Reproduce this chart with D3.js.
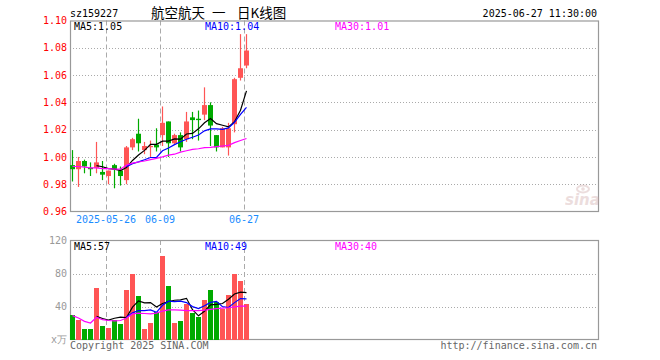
<!DOCTYPE html>
<html><head><meta charset="utf-8">
<script src="https://cdn.jsdelivr.net/npm/d3@7"></script>
<style>
html,body{margin:0;padding:0;background:#fff;}
svg{display:block;}
</style></head>
<body>
<svg id="c" width="660" height="360"></svg>
<script>
const dates = ["2025-05-16","2025-05-19","2025-05-20","2025-05-21","2025-05-22","2025-05-23","2025-05-26","2025-05-27","2025-05-28","2025-05-29",
"2025-05-30","2025-06-03","2025-06-04","2025-06-05","2025-06-06","2025-06-09","2025-06-10","2025-06-11","2025-06-12","2025-06-13",
"2025-06-16","2025-06-17","2025-06-18","2025-06-19","2025-06-20","2025-06-23","2025-06-24","2025-06-25","2025-06-26","2025-06-27"];
const openP  = [0.994,0.991,0.997,0.992,0.992,0.989,0.986,0.994,0.990,0.983,1.007,1.017,1.005,1.0075,1.009,1.016,1.026,1.010,1.016,1.013,1.029,1.028,1.031,1.038,1.016,1.007,1.007,1.024,1.058,1.067];
const highP  = [1.005,1.000,0.998,0.996,1.011,0.997,0.990,0.995,0.993,1.008,1.014,1.028,1.011,1.012,1.021,1.037,1.026,1.017,1.018,1.033,1.033,1.034,1.051,1.040,1.016,1.022,1.025,1.058,1.090,1.090];
const lowP   = [0.982,0.978,0.988,0.986,0.988,0.983,0.980,0.977,0.979,0.980,1.005,1.004,1.002,1.000,1.004,1.008,1.000,1.009,1.004,1.011,1.013,1.012,1.027,1.008,1.004,1.007,1.001,1.018,1.056,1.065];
const closeP = [0.991,0.997,0.993,0.991,0.996,0.987,0.990,0.991,0.986,1.007,1.013,1.010,1.008,1.008,1.007,1.025,1.010,1.016,1.007,1.026,1.027,1.027,1.038,1.023,1.007,1.021,1.021,1.057,1.065,1.078];
const ma5P  = [null,null,null,null,0.9936,0.9928,0.9914,0.991,0.990,0.9922,0.9974,1.0014,1.0048,1.0092,1.0092,1.0116,1.0116,1.0132,1.013,1.0168,1.0172,1.0206,1.025,1.0282,1.0244,1.0232,1.022,1.0258,1.0342,1.0484];
const ma10P = [null,null,null,null,null,null,null,null,null,0.9929,0.9951,0.9964,0.9979,0.9996,0.9997,1.0045,1.0065,1.009,1.0111,1.013,1.0144,1.0161,1.0191,1.0206,1.0206,1.0202,1.0213,1.0254,1.0312,1.0364];
const ma30P = [0.993,0.993,0.9925,0.992,0.992,0.9915,0.9915,0.991,0.991,0.994,0.9955,0.9963,0.997,0.998,0.999,1.000,1.0013,1.002,1.0035,1.0045,1.0055,1.006,1.0068,1.007,1.0075,1.008,1.0085,1.0105,1.012,1.0135];
const volume = [29.4,23.8,12.5,12.5,62,16,14.5,24,18.5,59.6,79.4,52.4,12.5,19.7,33.4,100.7,64.4,19.7,22.1,42.7,31.8,27,47.5,60.4,46,37,53.5,79,71.3,42.7];
const ma5V  = [null,null,null,null,28,25.4,23.5,25.8,27,26.5,39.2,46.8,44.5,44.7,39.5,43.7,46.1,47.6,48.1,49.9,36.1,28.7,34.2,41.9,42.5,43.6,48.9,55.2,57.4,56.7];
const ma10V = [null,null,null,null,null,null,null,null,null,27.3,32.3,35.1,35.1,35.9,33,41.5,46.5,46,46.4,44.7,39.9,37.4,40.9,45,46.2,39.9,38.8,44.7,49.6,49.3];
const ma30V = [29,26,22,20,27,24,23,22.5,23,26,31,32,31.5,31,32,34.5,36,36,35.5,35,35,35,35.5,36.5,37.5,38,38.5,39.5,40.5,40.4];
const priceTicks = [0.96,0.98,1.00,1.02,1.04,1.06,1.08,1.10];
const volTicks = [0,40,80,120];
const dateTicks = ["2025-05-26","2025-06-09","2025-06-27"];
const titleParts = ["航空航天","一","日K线图"];
const code = "sz159227";
const stamp = "2025-06-27 11:30:00";

const RED="#ff5555", GREEN="#00aa00", GRID="#aaaaaa", BORDER="#999999";
const MONO="'DejaVu Sans Mono', 'Liberation Mono', monospace";
const svg = d3.select("#c");

const L=70, R=598;
const x = d3.scaleBand().domain(dates).range([L, L+179]).paddingInner(1/6).paddingOuter(0);
const yP = d3.scaleLinear().domain([0.96,1.10]).range([211.5,20.5]);
const yV = d3.scaleLinear().domain([0,120]).range([339.5,240.5]);

function panel(y, ticks, top, bottom){
  svg.append("g").selectAll("line").data(ticks.slice(1,-1)).join("line")
    .attr("x1",L).attr("x2",R+2).attr("y1",d=>Math.round(y(d))+0.5).attr("y2",d=>Math.round(y(d))+0.5)
    .attr("stroke",GRID).attr("stroke-dasharray","1,2");
  svg.append("g").selectAll("line").data(dateTicks).join("line")
    .attr("x1",d=>x(d)+0.5).attr("x2",d=>x(d)+0.5).attr("y1",top).attr("y2",bottom)
    .attr("stroke",GRID).attr("stroke-dasharray","5,3");
  svg.append("rect").attr("x",L+0.5).attr("y",top+0.5).attr("width",R-L).attr("height",bottom-top)
    .attr("fill","none").attr("stroke",BORDER).attr("stroke-width",1.2);
}
panel(yP, priceTicks, 20.5, 211);
panel(yV, [0,40,80,120], 240, 339);

const ax = svg.append("g").attr("transform",`translate(${L},0)`)
  .call(d3.axisLeft(yP).tickValues(priceTicks).tickFormat(d3.format(".2f")).tickSize(0).tickPadding(3));
ax.select(".domain").remove();
ax.selectAll("text").attr("fill","#ff0000").style("font-family",MONO).style("font-size","10px");

const av = svg.append("g").attr("transform",`translate(${L},0)`)
  .call(d3.axisLeft(yV).tickValues(volTicks).tickFormat(d=>d===0?"x万":d).tickSize(0).tickPadding(3));
av.select(".domain").remove();
av.selectAll("text").attr("fill","#999").style("font-family",MONO).style("font-size","10px");

const ad = svg.append("g").attr("transform","translate(0,211.5)")
  .call(d3.axisBottom(x).tickValues(dateTicks).tickFormat((d,i)=>i===0?d:d.slice(5)).tickSize(0).tickPadding(4));
ad.select(".domain").remove();
ad.selectAll(".tick").attr("transform",d=>`translate(${x(d)},0)`);
ad.selectAll("text").attr("fill","#1a8cff").style("font-family",MONO).style("font-size","10px");

const idx = d3.range(dates.length);
const col = i => closeP[i]>=openP[i]?RED:GREEN;
const cg = svg.append("g");
cg.selectAll("line").data(idx).join("line")
  .attr("x1",i=>x(dates[i])+2.5).attr("x2",i=>x(dates[i])+2.5)
  .attr("y1",i=>yP(highP[i])).attr("y2",i=>yP(lowP[i]))
  .attr("stroke",col).attr("stroke-width",1.2);
cg.selectAll("rect").data(idx).join("rect")
  .attr("x",i=>x(dates[i])).attr("width",x.bandwidth())
  .attr("y",i=>yP(Math.max(openP[i],closeP[i])))
  .attr("height",i=>Math.max(1.2,Math.abs(yP(openP[i])-yP(closeP[i]))))
  .attr("fill",col);

svg.append("g").selectAll("rect").data(idx).join("rect")
  .attr("x",i=>x(dates[i])).attr("width",x.bandwidth())
  .attr("y",i=>yV(volume[i])).attr("height",i=>yV(0)-yV(volume[i]))
  .attr("fill",col).attr("shape-rendering","crispEdges");

function maLine(arr, y, color){
  const g = d3.line().defined(d=>d!=null).x((d,i)=>x(dates[i])+2.5).y(d=>y(d));
  svg.append("path").attr("d",g(arr)).attr("fill","none").attr("stroke",color).attr("stroke-width",1.2);
}
maLine(ma5P,yP,"#000"); maLine(ma10P,yP,"#0000ff"); maLine(ma30P,yP,"#ff00ff");
maLine(ma5V,yV,"#000"); maLine(ma10V,yV,"#0000ff"); maLine(ma30V,yV,"#ff00ff");

function txt(s,xx,yy,color,anchor,size,fam){
  return svg.append("text").attr("x",xx).attr("y",yy).attr("fill",color).attr("text-anchor",anchor||"start")
    .style("font-family",fam||MONO).style("font-size",(size||10)+"px").text(s);
}
const f2=d3.format(".2f");
txt("MA5:"+f2(ma5P[29]),74,30,"#000");
txt("MA10:"+f2(ma10P[29]),205,30,"#0000ff");
txt("MA30:"+f2(ma30P[29]),335,30,"#ff00ff");
txt("MA5:"+Math.round(ma5V[29]),74,250,"#000");
txt("MA10:"+Math.round(ma10V[29]),205,250,"#0000ff");
txt("MA30:"+Math.round(ma30V[29]),335,250,"#ff00ff");
txt(code,70,17,"#000");
txt(stamp,597,17,"#000","end");
const tt = svg.append("text").attr("y",18).attr("fill","#000")
  .style("font-family","'Noto Sans CJK SC', sans-serif").style("font-size","13.5px");
const tx = [151,212,237];
titleParts.forEach((p,i)=>tt.append("tspan").attr("x",tx[i]).text(p));
txt("Copyright 2025 SINA.COM",70,349,"#666");
txt("http://finance.sina.com.cn",597,349,"#666","end");

const wm = svg.append("g").attr("opacity",0.35);
wm.append("text").attr("x",565).attr("y",205).attr("fill","#c9a0a0").style("font-family","'DejaVu Sans', sans-serif")
  .style("font-size","15px").style("font-style","italic").style("font-weight","bold").text("sina");
wm.append("ellipse").attr("cx",583).attr("cy",189).attr("rx",6).attr("ry",3.5).attr("fill","none").attr("stroke","#c9a0a0").attr("stroke-width",2);
wm.append("circle").attr("cx",583).attr("cy",189).attr("r",1.8).attr("fill","#c9a0a0");
</script>
</body></html>
